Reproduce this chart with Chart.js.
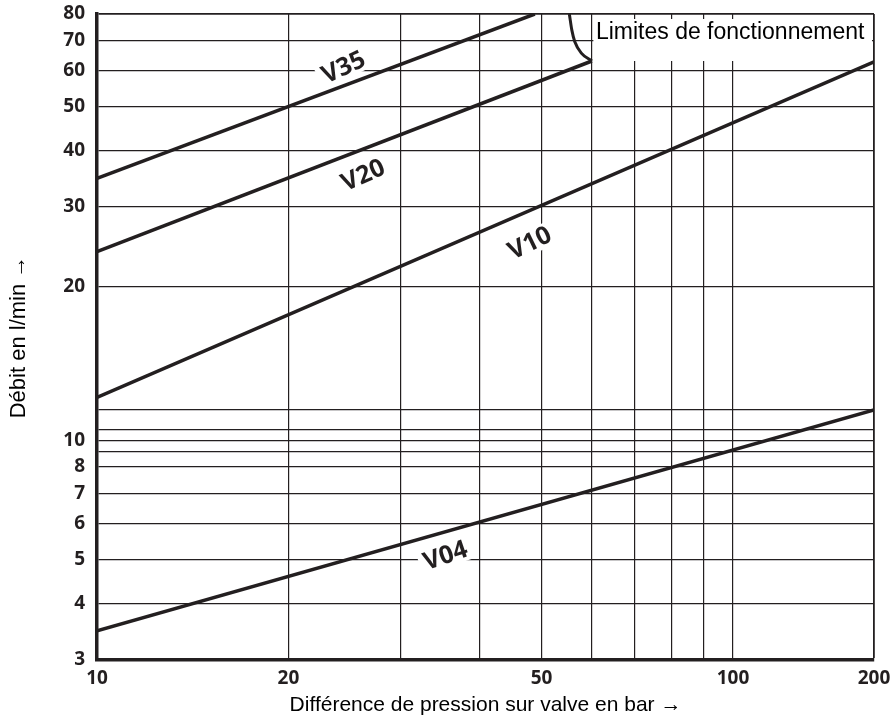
<!DOCTYPE html>
<html>
<head>
<meta charset="utf-8">
<script src="https://cdn.jsdelivr.net/npm/chart.js@4.4.0/dist/chart.umd.min.js"></script>
<style>
  body { margin: 0; background: #fff; }
  canvas { display: block; }
</style>
</head>
<body>
<canvas id="flowChart" width="893" height="720"></canvas>
<script>
// pressure (bar) grid and labels
const xGridValues = [10, 20, 30, 40, 50, 60, 70, 80, 90, 100, 200];
const xTickLabels = [10, 20, 50, 100, 200];

// flow (l/min) grid, with the label text for each line ('' = no label)
const yGridValues = [3, 4, 5, 6, 7, 8, 8.65, 9.15, 9.7, 10.7, 20, 30, 40, 50, 60, 70, 80];
const yTickText   = ['3', '4', '5', '6', '7', '8', '', '10', '', '', '20', '30', '40', '50', '60', '70', '80'];

// valve curves
const v35Pressure = [10, 48.8];
const v35Flow     = [34.7, 80];
const v20Pressure = [10, 60];
const v20Flow     = [23.9, 63];
const v10Pressure = [10, 200];
const v10Flow     = [11.4, 62.7];
const v04Pressure = [10, 200];
const v04Flow     = [3.48, 10.7];

// operating limit curve
const limitPressure = [55.3, 55.8, 56.4, 57.8, 60];
const limitFlow     = [80, 73.7, 69.5, 65.5, 63];

const ink = '#231f20';

// log axis 10..100 then a squeezed 100..200 part, like the printed chart
class BrokenLogScale extends Chart.LogarithmicScale {
    getPixelForValue(value) {
        if (value === null || value === undefined || isNaN(value)) return NaN;
        const lmin = Math.log10(this.min);
        const lmax = Math.log10(this.max);
        const lb = Math.log10(this.options.breakAt);
        const f = this.options.breakFraction;
        const lv = Math.log10(value);
        let d;
        if (lv <= lb) {
            d = (lv - lmin) / (lb - lmin) * f;
        } else {
            d = f + (lv - lb) / (lmax - lb) * (1 - f);
        }
        return this.getPixelForDecimal(d);
    }
}
BrokenLogScale.id = 'brokenLog';
BrokenLogScale.defaults = Chart.LogarithmicScale.defaults;
Chart.register(BrokenLogScale);

const toPoints = (xs, ys) => xs.map((x, i) => ({ x: x, y: ys[i] }));

const curve = (label, xs, ys) => ({
    label: label,
    data: toPoints(xs, ys),
    borderColor: ink,
    borderWidth: 3.5,
    pointRadius: 0,
    fill: false,
    tension: 0
});

// curve names written along the lines
const curveLabels = [
    { text: 'V35', x: 24.4, y: 61.1, angle: -25 },
    { text: 'V20', x: 26.2, y: 35.3, angle: -24 },
    { text: 'V10', x: 47.9, y: 25.0, angle: -26 },
    { text: 'V04', x: 35.3, y: 5.11, angle: -19 }
];

const labelFont = 'bold 25px "Open Sans", sans-serif';

const curveLabelPlugin = {
    id: 'curveLabels',
    beforeDatasetsDraw(chart) {
        const { ctx, scales: { x, y }, chartArea } = chart;
        ctx.save();
        // white knock-outs behind the curve names
        ctx.font = labelFont;
        curveLabels.forEach(l => {
            const px = x.getPixelForValue(l.x);
            const py = y.getPixelForValue(l.y);
            const w = ctx.measureText(l.text).width + 10;
            ctx.save();
            ctx.translate(px, py);
            ctx.rotate(l.angle * Math.PI / 180);
            ctx.fillStyle = '#fff';
            ctx.fillRect(-w / 2, -12, w, 24);
            ctx.restore();
        });
        // operating limit box
        const boxLeft = x.getPixelForValue(60) + 1.5;
        ctx.fillStyle = '#fff';
        ctx.fillRect(boxLeft, chartArea.top + 5, chartArea.right - boxLeft - 2, 42);
        ctx.restore();
    },
    afterDatasetsDraw(chart) {
        const { ctx, scales: { x, y }, chartArea } = chart;
        ctx.save();
        ctx.fillStyle = ink;
        ctx.textAlign = 'center';
        ctx.textBaseline = 'middle';
        ctx.font = labelFont;
        curveLabels.forEach(l => {
            ctx.save();
            ctx.translate(x.getPixelForValue(l.x), y.getPixelForValue(l.y));
            ctx.rotate(l.angle * Math.PI / 180);
            ctx.fillText(l.text, 0, 1);
            ctx.restore();
        });
        ctx.textAlign = 'left';
        ctx.fillStyle = '#000';
        ctx.font = '23px "Liberation Sans", Arial, sans-serif';
        ctx.fillText('Limites de fonctionnement', x.getPixelForValue(60) + 4, chartArea.top + 19);
        ctx.restore();
    }
};

new Chart(document.getElementById('flowChart'), {
    type: 'line',
    data: {
        datasets: [
            curve('V35', v35Pressure, v35Flow),
            curve('V20', v20Pressure, v20Flow),
            curve('V10', v10Pressure, v10Flow),
            curve('V04', v04Pressure, v04Flow),
            {
                label: 'Limites',
                data: toPoints(limitPressure, limitFlow),
                borderColor: ink,
                borderWidth: 3,
                pointRadius: 0,
                fill: false,
                cubicInterpolationMode: 'monotone'
            }
        ]
    },
    options: {
        responsive: false,
        animation: false,
        layout: { padding: { top: 14, right: 19, left: 0, bottom: 0 } },
        plugins: {
            legend: { display: false },
            tooltip: { enabled: false }
        },
        scales: {
            x: {
                type: 'brokenLog',
                min: 10,
                max: 200,
                breakAt: 100,
                breakFraction: 0.8185,
                afterBuildTicks: s => { s.ticks = xGridValues.map(v => ({ value: v })); },
                afterFit: s => { s.height = 60; s.paddingLeft = 0; s.paddingRight = 0; },
                ticks: {
                    autoSkip: false,
                    maxRotation: 0,
                    padding: 7,
                    color: ink,
                    font: { family: 'Open Sans', weight: 'bold', size: 19 },
                    callback: v => xTickLabels.includes(v) ? String(v) : ''
                },
                grid: {
                    drawTicks: false,
                    color: ink,
                    lineWidth: c => (c.tick && c.tick.value === 200) ? 1.8 : 1.2
                },
                border: { display: true, color: ink, width: 3.5 },
                title: {
                    display: true,
                    text: 'Différence de pression sur valve en bar →',
                    color: '#000',
                    font: { family: 'Liberation Sans', size: 21 },
                    padding: { top: 0, bottom: 2 }
                }
            },
            y: {
                type: 'logarithmic',
                min: 3,
                max: 80,
                afterBuildTicks: s => { s.ticks = yGridValues.map(v => ({ value: v })); },
                afterFit: s => { s.width = 97; s.paddingTop = 0; s.paddingBottom = 0; },
                ticks: {
                    autoSkip: false,
                    padding: 12,
                    color: ink,
                    font: { family: 'Open Sans', weight: 'bold', size: 19 },
                    callback: (v, i) => yTickText[i]
                },
                grid: {
                    drawTicks: false,
                    color: ink,
                    lineWidth: c => (c.tick && c.tick.value === 80) ? 1.8 : 1.2
                },
                border: { display: true, color: ink, width: 3.5 },
                title: {
                    display: true,
                    text: 'Débit en l/min →',
                    color: '#000',
                    font: { family: 'Liberation Sans', size: 22 },
                    padding: { top: 6, bottom: 0 }
                }
            }
        }
    },
    plugins: [curveLabelPlugin]
});
</script>
</body>
</html>
